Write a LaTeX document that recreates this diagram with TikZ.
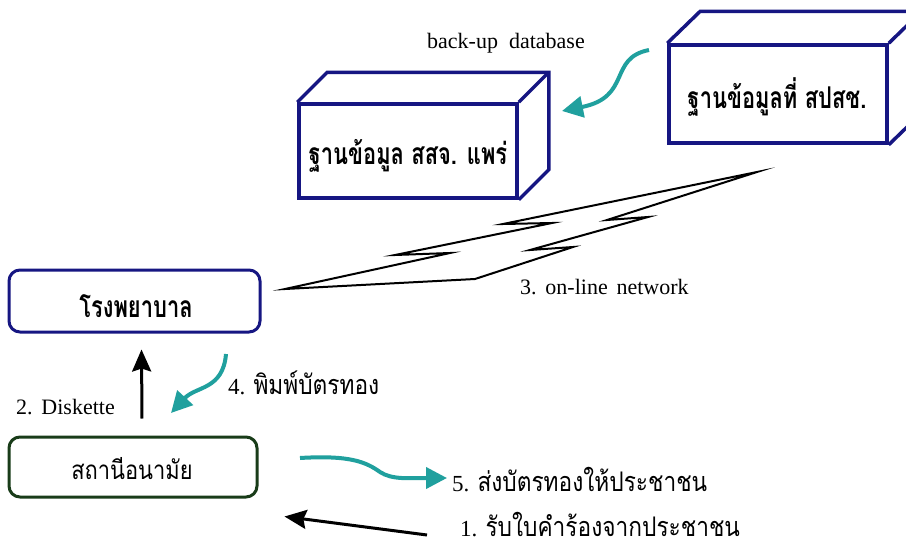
\documentclass[tikz,border=0pt]{standalone}
\usepackage{fontspec}
\setmainfont{Liberation Serif}
\newfontfamily\thaiB[Script=Thai,FakeStretch=0.73]{Loma}
\newfontfamily\thaiN[Script=Thai,FakeStretch=0.84]{Loma}
\usetikzlibrary{arrows.meta,calc}
\definecolor{navy}{RGB}{22,22,130}
\definecolor{tealarr}{RGB}{32,160,158}
\definecolor{dgreen}{RGB}{25,60,25}
\tikzset{
  dbface/.style={draw=navy,line width=3.5pt,line join=miter,fill=white,inner sep=0pt},
  dbedge/.style={draw=navy,line width=3.5pt,line join=miter},
  roundbox/.style={rounded corners=11pt,line width=3pt,fill=white,inner sep=0pt},
  blackarr/.style={line width=3pt,-{Stealth[length=22pt,width=19pt,inset=3pt]}},
  tealcurve/.style={draw=tealarr,line width=4pt,-{Triangle[length=21pt,width=21pt]}},
  bolt/.style={draw=black,line width=2pt,line join=miter,miter limit=30},
  lat/.style={font=\fontsize{22}{26}\selectfont,inner sep=0pt},
  thaibig/.style={font=\thaiB\bfseries\fontsize{30}{34}\selectfont,inner sep=0pt},
  thaireg/.style={font=\fontsize{23}{27}\selectfont,inner sep=0pt}
}
\begin{document}
\begin{tikzpicture}[x=1pt,y=-1pt]
\useasboundingbox (0,0) rectangle (906,549);
\fill[white] (0,0) rectangle (906,549);
\clip (0,0) rectangle (906,549);

% ---- database boxes (3D) ----
\node[dbface,minimum width=218pt,minimum height=94pt] (prov) at (408,151) {};
\draw[dbedge] (prov.north west) -- ++(30,-30) -- ($(prov.north east)+(30,-30)$) -- ($(prov.south east)+(30,-30)$) -- (prov.south east);
\draw[dbedge] (prov.north east) -- ++(30,-30);
\node[thaibig] (provtxt) at (408,156) {ฐานข้อมูล สสจ. แพร่};

\node[dbface,minimum width=218pt,minimum height=98pt] (nhso) at (778,94) {};
\draw[dbedge] (nhso.north west) -- ++(33,-32) -- ($(nhso.north east)+(33,-32)$) -- ($(nhso.south east)+(33,-32)$) -- (nhso.south east);
\draw[dbedge] (nhso.north east) -- ++(33,-32);
\node[thaibig] (nhsotxt) at (777,97) {ฐานข้อมูลที่ สปสช.};

\node[lat] (backup) at (506,43) {back-up\hspace{0.5em}database};

% back-up arrow
\coordinate (bkS) at (649,50);
\coordinate (bkE) at (562,111);
\draw[tealcurve] (bkS) .. controls (608,58) and (632,97) .. (bkE);

% ---- hospital & health station ----
\node[roundbox,draw=navy,minimum width=251pt,minimum height=62pt] (hosp) at (134.5,301) {};
\node[thaibig] at (136,306) {โรงพยาบาล};
\node[roundbox,draw=dgreen,minimum width=248pt,minimum height=60pt] (sta) at (133,467) {};
\node[font=\thaiN\fontsize{26}{30}\selectfont,inner sep=0pt] at (132,469) {สถานีอนามัย};

% ---- lightning (on-line network) ----
\draw[bolt] (285,289) -- (450,253) -- (395,255) -- (552,223) -- (503,224) -- (757,172)
  -- (607,220) -- (648,217) -- (530,250) -- (573,247) -- (475,279) -- cycle;
\node[lat,anchor=west] (net) at (520,287) {3.\hspace{0.4em}on-line\hspace{0.4em}network};

% ---- arrow 2 ----
\draw[blackarr] ($(sta.north)+(9,-17)$) -- ($(hosp.south)+(7,16)$);
\node[lat,anchor=west] (disk) at (16,407) {2.\hspace{0.4em}Diskette};

% ---- arrow 4 ----
\node[thaireg,anchor=west] (print) at (228,383) {4.\hspace{0.35em}{\thaiN\fontsize{27}{30}\selectfont พิมพ์บัตรทอง}};
\coordinate (p4S) at (226,354);
\coordinate (p4E) at (171,413);
\draw[tealcurve] (p4S) .. controls (223,390) and (196,386) .. (p4E);

% ---- arrow 5 ----
\node[thaireg,anchor=west] (give) at (452,480) {5.\hspace{0.35em}{\thaiN\fontsize{27}{30}\selectfont ส่งบัตรทองให้ประชาชน}};
\coordinate (g5S) at (300,458);
\draw[tealcurve] (g5S) .. controls (350,455) and (366,462) .. (380,472) .. controls (392,480) and (410,478) .. ($(give.west)+(-5,-2)$);

% ---- arrow 1 ----
\node[thaireg,anchor=west] (recv) at (460,525) {1.\hspace{0.35em}{\thaiN\fontsize{27}{30}\selectfont รับใบคำร้องจากประชาชน}};
\draw[blackarr] ($(recv.west)+(-33,10)$) -- ($(sta.south east)+(26,18)$);
\end{tikzpicture}
\end{document}
